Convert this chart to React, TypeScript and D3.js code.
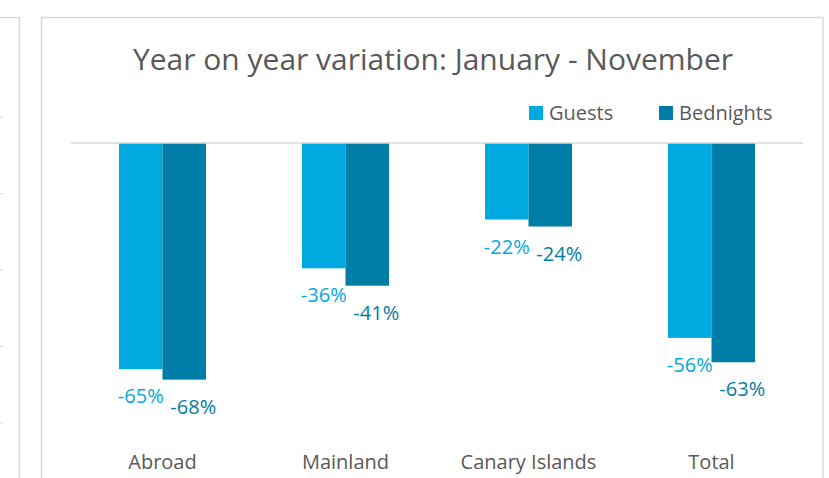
import React from "react";
import * as d3 from "d3";

const categories = ["Abroad", "Mainland", "Canary Islands", "Total"];
const seriesNames = ["Guests", "Bednights"];
const guests = [-65, -36, -22, -56];
const bednights = [-68, -41, -24, -63];
const leftGridTicks = [0, 1, 2, 3, 4];

const colors: Record<string, string> = { Guests: "#00A9E0", Bednights: "#007DA6" };
const labelShift: Record<string, number> = { Guests: 0, Bednights: 9 };
const FONT = "'Open Sans', sans-serif";

export default function App() {
  const W = 829, H = 478;
  const x = d3.scaleBand<string>().domain(categories).range([71, 803]).paddingInner(0).paddingOuter(0);
  const groupW = 87;
  const xs = d3.scaleBand<string>().domain(seriesNames).range([0, groupW]).padding(0);
  const y = d3.scaleLinear().domain([0, -100]).range([143, 491]);
  const leftGrid = d3.scaleLinear().domain([0, 4]).range([117, 423]);

  const data = seriesNames.map((s) => ({ name: s, values: s === "Guests" ? guests : bednights }));

  return (
    <svg width={W} height={H} style={{ position: "absolute", left: 0, top: 0, background: "#fff" }}>
      {/* partial left chart */}
      <path d={`M0,17.5 H19.5 V${H}`} fill="none" stroke="#d9d9d9" strokeWidth={1.5} />
      {leftGridTicks.map((t) => (
        <line key={t} x1={0} x2={3} y1={leftGrid(t)} y2={leftGrid(t)} stroke="#d9d9d9" strokeWidth={1} />
      ))}
      {/* main chart frame */}
      <path d={`M41.5,${H} V17.5 H823 V${H}`} fill="none" stroke="#d9d9d9" strokeWidth={1.5} />
      <text x={433} y={70} textAnchor="middle" fontFamily={FONT} fontSize={30} fill="#595959">
        Year on year variation: January - November
      </text>
      {/* legend */}
      {seriesNames.map((s, i) => {
        const lx = i === 0 ? 529 : 659;
        return (
          <g key={s}>
            <rect x={lx} y={106} width={14} height={14} fill={colors[s]} />
            <text x={lx + 20} y={120} fontFamily={FONT} fontSize={20} fill="#595959">{s}</text>
          </g>
        );
      })}
      {/* bars */}
      {data.map((d) =>
        d.values.map((v, i) => {
          const bx = (x(categories[i]) as number) + x.bandwidth() / 2 - groupW / 2 + (xs(d.name) as number);
          const y0 = y(0), y1 = y(v);
          return (
            <g key={d.name + i}>
              <rect x={bx} y={y0} width={xs.bandwidth()} height={y1 - y0} fill={colors[d.name]} />
              <text x={bx + xs.bandwidth() / 2 + labelShift[d.name]} y={y1 + 34} textAnchor="middle" fontFamily={FONT} fontSize={20} fill={colors[d.name]}>
                {`${v}%`}
              </text>
            </g>
          );
        })
      )}
      {/* zero line */}
      <line x1={71} x2={803} y1={y(0)} y2={y(0)} stroke="#d9d9d9" strokeWidth={1.5} />
      {/* category labels */}
      {categories.map((c) => (
        <text key={c} x={(x(c) as number) + x.bandwidth() / 2} y={469} textAnchor="middle" fontFamily={FONT} fontSize={20} fill="#595959">
          {c}
        </text>
      ))}
    </svg>
  );
}
